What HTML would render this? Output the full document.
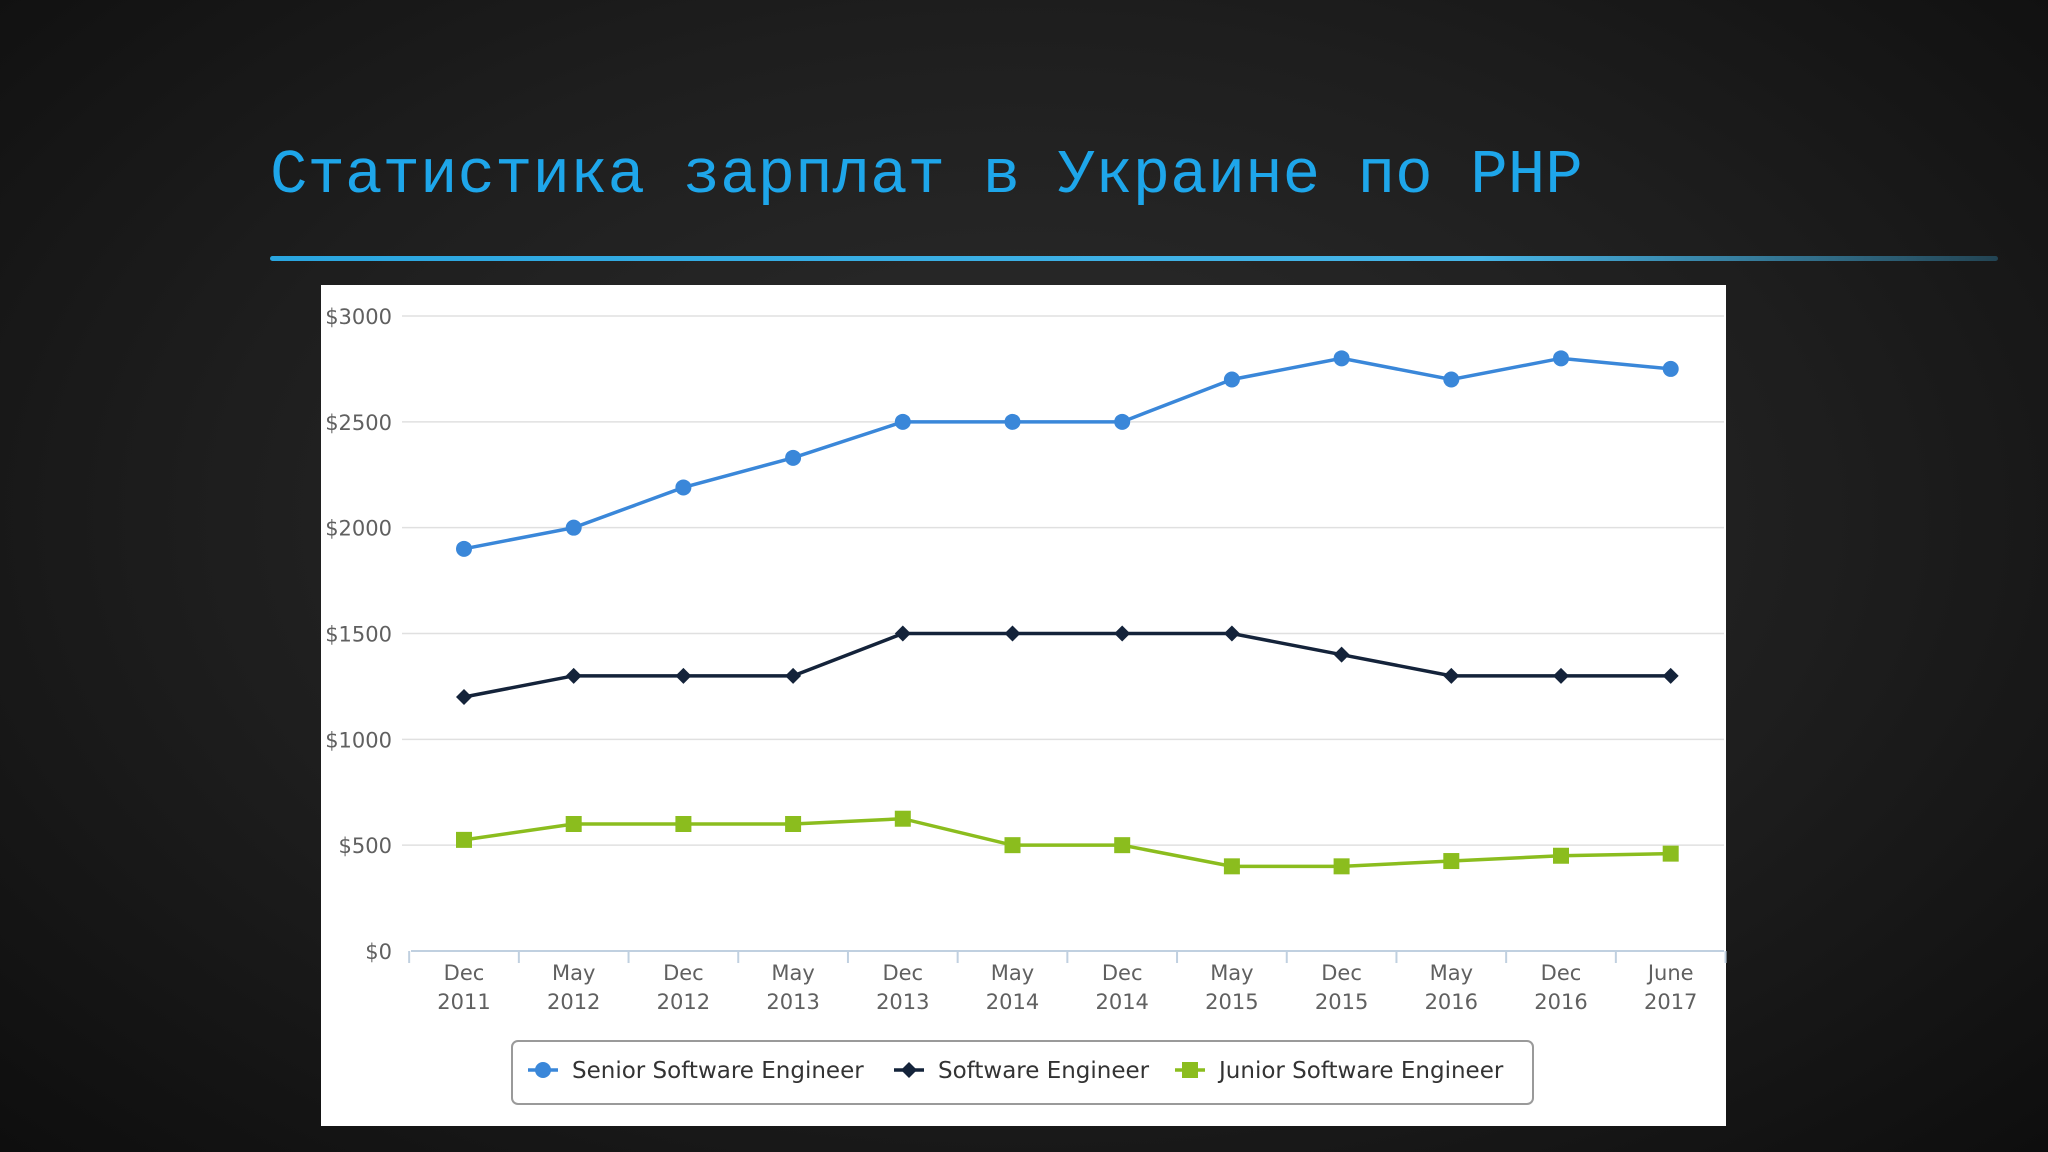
<!DOCTYPE html>
<html><head><meta charset="utf-8">
<style>
html,body{margin:0;padding:0;width:2048px;height:1152px;overflow:hidden;background:#161616;}
#bg{position:absolute;left:0;top:0;width:2048px;height:1152px;background:radial-gradient(ellipse at 50% 45%,#2e2e2e 0%,#1e1e1e 55%,#0e0e0e 100%);}
#title{position:absolute;left:270px;top:140px;font-family:"Liberation Mono",monospace;font-size:62.5px;color:#1ea6ea;white-space:nowrap;}
#rule{position:absolute;left:270px;top:256px;width:1728px;height:5px;background:linear-gradient(90deg,#2aa6e0,#47b6e8 70%,rgba(60,170,220,0.3));border-radius:3px;}
#panel{position:absolute;left:321px;top:285px;width:1405px;height:841px;background:#fff;}
svg{position:absolute;left:0;top:0;}
text{font-family:"DejaVu Sans","Liberation Sans",sans-serif;}
</style></head><body>
<div id="bg"></div>
<div id="title">Статистика зарплат в Украине по PHP</div>
<div id="rule"></div>
<div id="panel"></div>
<svg id="chart" width="2048" height="1152"></svg>
<script>
const categories=[["Dec","2011"],["May","2012"],["Dec","2012"],["May","2013"],["Dec","2013"],["May","2014"],["Dec","2014"],["May","2015"],["Dec","2015"],["May","2016"],["Dec","2016"],["June","2017"]];
const senior=[1900,2000,2190,2330,2500,2500,2500,2700,2800,2700,2800,2750];
const middle=[1200,1300,1300,1300,1500,1500,1500,1500,1400,1300,1300,1300];
const junior=[525,600,600,600,625,500,500,400,400,425,450,460];
const yTicks=[0,500,1000,1500,2000,2500,3000];
const yTickLabels=["$0","$500","$1000","$1500","$2000","$2500","$3000"];
const seriesNames=["Senior Software Engineer","Software Engineer","Junior Software Engineer"];

const NS="http://www.w3.org/2000/svg";
const svg=document.getElementById('chart');
const x0=464,dx=109.7,yZero=951,yTop=316;
const X=i=>x0+i*dx;
const Y=v=>yZero-(v/3000)*(yZero-yTop);
function mk(t,a){const e=document.createElementNS(NS,t);for(const k in a)e.setAttribute(k,a[k]);svg.appendChild(e);return e;}

yTicks.forEach((v,i)=>{
  if(v>0){const g=mk('line',{x1:402,x2:1724,y1:Y(v),y2:Y(v),stroke:'#e0e0e0','stroke-width':1.5});
  
  }
  const t=mk('text',{x:392,y:Y(v)+8,'text-anchor':'end','font-size':21,fill:'#606060'});
  t.textContent=yTickLabels[i];
  
  
});
const ax=mk('line',{x1:411,x2:1724,y1:yZero,y2:yZero,stroke:'#c0d0e0','stroke-width':2});


for(let i=0;i<=categories.length;i++){
  const tx=X(i-0.5);
  const tk=mk('line',{x1:tx,x2:tx,y1:yZero,y2:yZero+12,stroke:'#c0d0e0','stroke-width':2});
  
  
}
categories.forEach((c,i)=>{
  const t=mk('text',{x:X(i),y:980,'text-anchor':'middle','font-size':21,fill:'#606060'});
  
  
  const s1=document.createElementNS(NS,'tspan');s1.setAttribute('x',X(i));s1.textContent=c[0];t.appendChild(s1);
  const s2=document.createElementNS(NS,'tspan');s2.setAttribute('x',X(i));s2.setAttribute('dy','29');s2.textContent=c[1];t.appendChild(s2);
});
function marker(type,cx,cy,color,name){
  let e;
  if(type==='circle')e=mk('circle',{cx:cx,cy:cy,r:8,fill:color});
  else if(type==='diamond')e=mk('path',{d:`M${cx} ${cy-8}L${cx+8} ${cy}L${cx} ${cy+8}L${cx-8} ${cy}Z`,fill:color});
  else e=mk('rect',{x:cx-8,y:cy-8,width:16,height:16,fill:color});
  
  
}
function series(data,color,type,name){
  const p=mk('polyline',{points:data.map((v,i)=>X(i)+','+Y(v)).join(' '),fill:'none',stroke:color,'stroke-width':3.5});
  
  
  data.forEach((v,i)=>marker(type,X(i),Y(v),color,name+'-point'));
}
series(senior,'#3a87d9','circle','senior');
series(middle,'#14233a','diamond','middle');
series(junior,'#8bbd1e','square','junior');

const lb=mk('rect',{x:512,y:1041,width:1021,height:63,rx:6,fill:'#fff',stroke:'#9a9a9a','stroke-width':2});


const lx=[528,894,1175],cols=['#3a87d9','#14233a','#8bbd1e'],types=['circle','diamond','square'];
seriesNames.forEach((n,i)=>{
  const l=mk('line',{x1:lx[i],x2:lx[i]+30,y1:1070,y2:1070,stroke:cols[i],'stroke-width':3.5});
  
  
  marker(types[i],lx[i]+15,1070,cols[i],'legend-marker');
  const t=mk('text',{x:lx[i]+44,y:1078,'font-size':23,fill:'#333'});
  t.textContent=n;
  
  
});
</script>
</body></html>
